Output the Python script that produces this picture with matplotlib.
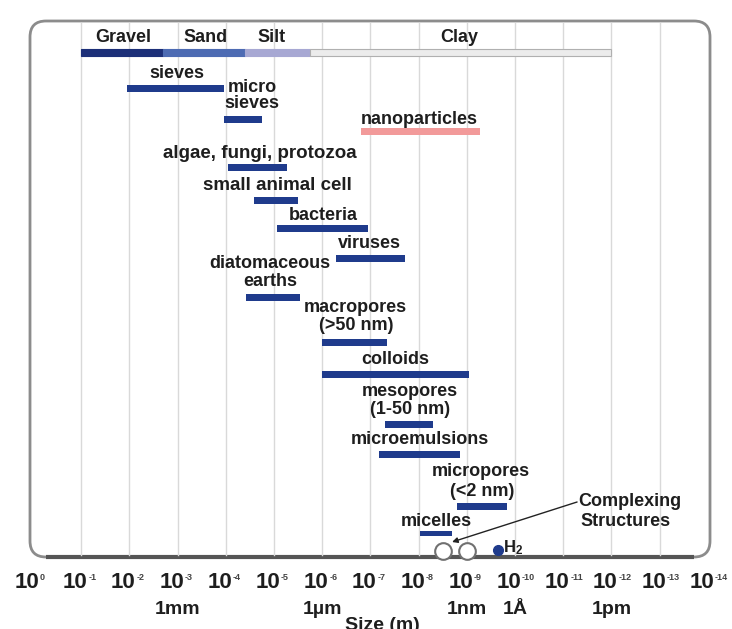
import numpy as np
import matplotlib
matplotlib.use('Agg')
import matplotlib.pyplot as plt
from matplotlib.patches import FancyBboxPatch
from matplotlib.transforms import offset_copy

plt.rcParams['font.family'] = ['Liberation Sans', 'DejaVu Sans']
plt.rcParams['font.weight'] = 'bold'
plt.rcParams['mathtext.fontset'] = 'custom'
plt.rcParams['mathtext.rm'] = 'Liberation Sans:bold'
plt.rcParams['mathtext.bf'] = 'Liberation Sans:bold'
plt.rcParams['mathtext.it'] = 'Liberation Sans:bold'

# soil classes (size in metres, large -> small)
soil_names = ['Gravel', 'Sand', 'Silt', 'Clay']
soil_lo = [1e-1, 2e-3, 4e-5, 1.8e-6]
soil_hi = [2e-3, 4e-5, 1.8e-6, 1e-12]
soil_colors = ['#1c2f78', '#4d6bb3', '#a7a8d3', '#ececec']

# size ranges of things, metres
items = ['sieves', 'micro sieves', 'nanoparticles', 'algae, fungi, protozoa',
         'small animal cell', 'bacteria', 'viruses', 'diatomaceous earths',
         'macropores', 'colloids', 'mesopores', 'microemulsions',
         'micropores', 'micelles']
item_lo = [1.1e-2, 1.1e-4, 1.6e-7, 9e-5, 2.6e-5, 8.7e-6, 5.2e-7, 3.8e-5,
           1e-6, 1e-6, 5e-8, 6.6e-8, 1.6e-9, 9.3e-9]
item_hi = [1.1e-4, 1.8e-5, 5.4e-10, 5.4e-6, 3.2e-6, 1.1e-7, 1.9e-8, 2.9e-6,
           4.5e-8, 9e-10, 5e-9, 1.4e-9, 1.5e-10, 2e-9]

exponents = list(range(0, 15))
unit_names = ['1mm', '1µm', '1nm', '1Å', '1pm']
unit_sizes = [1e-3, 1e-6, 1e-9, 1e-10, 1e-12]

complex_sizes = [3.1e-9, 1e-9]
h2_size = 2.3e-10

navy = '#1f3b8c'
txt = '#1e1e1e'

fig = plt.figure(figsize=(7.32, 6.29), dpi=100)

# background frame in pixel units
frame = fig.add_axes([0, 0, 1, 1])
frame.set_xlim(0, 732)
frame.set_ylim(629, 0)
frame.axis('off')
box = FancyBboxPatch((30, 21), 680, 536, boxstyle='round,pad=0,rounding_size=16',
                     fc='white', ec='#8c8c8c', lw=2)
frame.add_patch(box)
frame.plot([46, 694], [557, 557], color='#555555', lw=3, solid_capstyle='butt')

ax = fig.add_axes([0, 0, 1, 1], facecolor='none')
ax.set_xscale('log')
ax.set_xlim(10 ** 0.685, 10 ** -14.5)
ax.set_ylim(629, 0)
ax.axis('off')

def x_at(px):
    return 10 ** (-(px - 33) / 48.2)

# decade grid
for e in exponents[1:-1]:
    ax.plot([10.0 ** -e, 10.0 ** -e], [23, 555], color='#d9d9d9', lw=1, zorder=1)

# soil classification bar
for name, lo, hi, c in zip(soil_names, soil_lo, soil_hi, soil_colors):
    ax.barh(52, hi - lo, left=lo, height=7, color=c,
            edgecolor='#b0b0b0' if name == 'Clay' else c, lw=0.8, zorder=3)
for name, px in zip(soil_names, [123, 205, 271, 459]):
    ax.text(x_at(px), 37, name, ha='center', va='center', fontsize=13, color=txt)

# item bars: y position, label lines and label position
bar_y = [88, 119, 131, 167, 200, 228, 258, 297, 342, 374, 424, 454, 506, 533]
labels = [
    [('sieves', 177, 73)],
    [('micro', 252, 88), ('sieves', 252, 104)],
    [('nanoparticles', 419, 119)],
    [('algae, fungi, protozoa', 260, 153)],
    [('small animal cell', 277, 185)],
    [('bacteria', 323, 215)],
    [('viruses', 369, 243)],
    [('diatomaceous', 270, 263), ('earths', 270, 281)],
    [('macropores', 355, 307), ('(>50 nm)', 356, 325)],
    [('colloids', 395, 360)],
    [('mesopores', 410, 392), ('(1-50 nm)', 410, 410)],
    [('microemulsions', 420, 440)],
    [('micropores', 481, 472), ('(<2 nm)', 482, 491)],
    [('micelles', 436, 521)],
]
for name, lo, hi, y, labs in zip(items, item_lo, item_hi, bar_y, labels):
    c = '#f29a9a' if name == 'nanoparticles' else navy
    h = 5 if name == 'micelles' else 7
    ax.barh(y, hi - lo, left=lo, height=h, color=c, zorder=3)
    for s, px, py in labs:
        fs = 13.5 if len(s) > 15 else 13
        ax.text(x_at(px), py, s, ha='center', va='center', fontsize=fs,
                color=txt, zorder=4)

# complexing structures and hydrogen
ax.plot(complex_sizes, [551, 551], 'o', ms=12, mfc='white', mec='#707070',
        mew=1.5, zorder=4)
ax.plot([h2_size], [550], 'o', ms=7, color=navy, zorder=4)
ax.text(x_at(503), 548, r'$\mathbf{H_2}$', ha='left', va='center', fontsize=12,
        color=txt)
ax.annotate('', xy=(x_at(452), 542), xytext=(x_at(577), 502),
            arrowprops=dict(arrowstyle='-|>', color='#222222', lw=1,
                            mutation_scale=8, shrinkA=0, shrinkB=0))
ax.text(x_at(578), 502, 'Complexing', ha='left', va='center', fontsize=13,
        color=txt)
ax.text(x_at(580), 521, 'Structures', ha='left', va='center', fontsize=13,
        color=txt)

# decade labels: "10" with a small raised exponent
base_tr = offset_copy(ax.transData, fig=fig, x=-6, y=0, units='dots')
sup_tr = offset_copy(ax.transData, fig=fig, x=7, y=1, units='dots')
for e in exponents:
    ax.text(10.0 ** -e, 583, '10', transform=base_tr, ha='center', va='center',
            fontsize=16, color=txt)
    ax.text(10.0 ** -e, 583, '-%d' % e if e else '0', transform=sup_tr,
            ha='left', va='bottom', fontsize=6.5, color='#444444')
for s, v in zip(unit_names, unit_sizes):
    ax.text(v, 610, s, ha='center', va='center', fontsize=14, color=txt)
ax.text(x_at(382), 626, 'Size (m)', ha='center', va='center', fontsize=14,
        color=txt)

fig.savefig('out.png', dpi=100)
